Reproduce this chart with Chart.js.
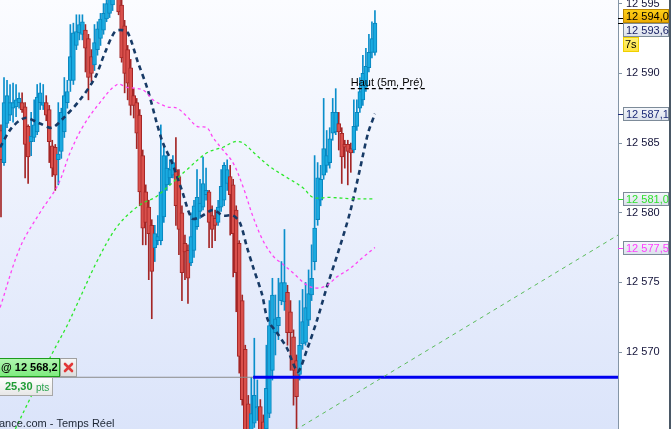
<!DOCTYPE html>
<html>
<head>
<meta charset="utf-8">
<script src="https://cdn.jsdelivr.net/npm/chart.js@4.4.0/dist/chart.umd.min.js"></script>
<style>
  html, body { margin: 0; padding: 0; background: #fff; overflow: hidden; }
  #wrap { width: 671px; height: 429px; }
</style>
</head>
<body>
<div id="wrap"><canvas id="chart" width="671" height="429"></canvas></div>
<script>
// 1-minute candles (oldest first)
const opens = [
  12585.9, 12583.6, 12586.4, 12587.0, 12587.5, 12587.6, 12587.9, 12587.9, 12587.6, 12586.2,
  12585.1, 12585.4, 12585.8, 12587.9, 12587.7, 12587.9, 12587.4, 12584.8, 12584.7, 12583.8,
  12584.4, 12585.8, 12587.9, 12589.5, 12589.5, 12592.0, 12592.9, 12592.8, 12593.1, 12592.5,
  12591.2, 12590.6, 12591.7, 12592.5, 12593.1, 12593.9, 12594.3, 12594.9, 12595.6, 12595.8,
  12594.9, 12593.4, 12591.7, 12590.4, 12588.4, 12587.9, 12587.0, 12584.1, 12581.5, 12580.4,
  12579.1, 12577.5, 12578.0, 12578.0, 12579.7, 12582.0, 12582.5, 12582.7, 12583.1, 12582.6,
  12580.0, 12577.8, 12577.3, 12576.4, 12577.3, 12579.0, 12580.1, 12580.4, 12581.3, 12581.5,
  12579.8, 12579.6, 12579.3, 12580.4, 12580.9, 12582.1, 12582.6, 12582.0, 12580.2, 12577.8,
  12573.7, 12570.2, 12566.3, 12563.4, 12564.9, 12566.0, 12566.1, 12565.0, 12564.5, 12565.6,
  12568.7, 12571.4, 12571.9, 12573.7, 12573.6, 12574.3, 12572.9, 12571.1, 12569.4, 12568.4,
  12570.6, 12570.7, 12572.3, 12574.1, 12576.5, 12579.5, 12580.9, 12582.7, 12583.4, 12583.6,
  12585.7, 12585.8, 12586.4, 12585.7, 12584.9, 12584.9, 12584.6, 12584.5, 12586.2, 12587.5,
  12588.1, 12589.0, 12590.4, 12591.5, 12591.5
];
const highs = [
  12586.3, 12589.7, 12589.5, 12589.2, 12589.3, 12589.2, 12588.6, 12588.6, 12587.9, 12586.3,
  12587.2, 12588.1, 12589.2, 12589.3, 12589.2, 12588.4, 12587.7, 12585.2, 12584.9, 12587.9,
  12587.5, 12589.7, 12589.5, 12593.5, 12593.6, 12594.2, 12594.2, 12594.2, 12593.5, 12592.8,
  12591.7, 12593.5, 12593.7, 12594.3, 12595.0, 12595.6, 12596.0, 12596.3, 12596.7, 12596.3,
  12595.3, 12593.8, 12592.0, 12591.0, 12588.9, 12588.2, 12587.4, 12584.5, 12582.0, 12580.9,
  12579.5, 12579.1, 12579.8, 12586.3, 12584.9, 12584.1, 12583.8, 12584.1, 12585.4, 12583.1,
  12580.5, 12578.4, 12577.7, 12580.0, 12580.9, 12583.1, 12582.4, 12584.0, 12583.2, 12581.6,
  12580.5, 12580.2, 12580.9, 12583.1, 12583.6, 12583.8, 12583.4, 12582.4, 12580.5, 12578.0,
  12574.1, 12570.5, 12566.9, 12568.2, 12571.0, 12568.0, 12566.6, 12565.5, 12570.5, 12573.7,
  12575.3, 12574.1, 12575.3, 12576.5, 12578.8, 12574.8, 12573.7, 12571.6, 12569.8, 12573.7,
  12574.5, 12575.0, 12575.9, 12577.7, 12584.1, 12583.6, 12583.4, 12588.2, 12585.9, 12586.1,
  12588.2, 12588.9, 12587.2, 12586.1, 12585.2, 12585.2, 12585.0, 12588.1, 12588.1, 12589.7,
  12591.3, 12591.8, 12592.8, 12593.7, 12594.5
];
const lows = [
  12579.7, 12583.4, 12586.1, 12586.6, 12586.5, 12586.9, 12587.5, 12587.2, 12582.5, 12582.1,
  12584.1, 12585.1, 12585.6, 12587.4, 12587.4, 12586.6, 12583.6, 12582.6, 12581.6, 12582.0,
  12583.9, 12585.4, 12587.5, 12588.7, 12589.2, 12591.7, 12592.4, 12592.4, 12590.1, 12588.1,
  12589.4, 12590.2, 12591.3, 12592.0, 12592.8, 12593.7, 12594.0, 12594.5, 12595.3, 12594.2,
  12590.8, 12588.6, 12588.1, 12587.0, 12586.8, 12584.6, 12580.5, 12577.7, 12577.7, 12575.2,
  12572.4, 12576.5, 12577.7, 12577.7, 12579.3, 12581.6, 12582.0, 12582.5, 12579.1, 12577.0,
  12573.7, 12575.2, 12573.5, 12576.2, 12576.8, 12578.8, 12579.6, 12580.2, 12580.9, 12577.5,
  12577.5, 12578.0, 12579.1, 12580.1, 12580.5, 12581.6, 12578.4, 12575.4, 12572.9, 12568.5,
  12566.2, 12563.4, 12563.0, 12563.0, 12564.6, 12565.1, 12563.4, 12563.4, 12564.1, 12565.3,
  12568.0, 12569.8, 12570.9, 12573.4, 12573.0, 12570.5, 12568.7, 12566.2, 12563.7, 12568.0,
  12570.2, 12570.5, 12571.9, 12573.7, 12575.9, 12579.1, 12580.5, 12582.4, 12582.9, 12583.2,
  12585.2, 12585.6, 12584.5, 12582.1, 12583.2, 12582.0, 12582.9, 12584.3, 12585.9, 12587.2,
  12587.7, 12588.7, 12590.1, 12591.1, 12591.3
];
const closes = [
  12583.8, 12587.9, 12588.4, 12587.9, 12587.9, 12588.1, 12588.2, 12587.4, 12584.9, 12584.0,
  12585.5, 12586.3, 12588.3, 12588.6, 12587.9, 12587.0, 12585.1, 12583.2, 12582.7, 12584.2,
  12587.2, 12588.4, 12588.7, 12591.2, 12592.9, 12593.0, 12593.5, 12593.7, 12591.8, 12589.7,
  12590.0, 12592.2, 12593.2, 12593.9, 12594.3, 12595.0, 12595.4, 12595.8, 12596.3, 12594.4,
  12591.1, 12590.0, 12589.3, 12587.7, 12587.7, 12585.7, 12581.5, 12578.9, 12579.3, 12578.5,
  12575.8, 12578.5, 12578.3, 12581.5, 12584.1, 12583.2, 12583.1, 12583.6, 12580.5, 12578.8,
  12575.7, 12577.2, 12575.3, 12578.3, 12580.5, 12581.1, 12580.7, 12582.1, 12581.6, 12579.3,
  12578.8, 12579.1, 12580.4, 12581.9, 12583.4, 12583.1, 12581.3, 12578.5, 12575.7, 12569.7,
  12566.6, 12563.7, 12563.4, 12565.6, 12566.9, 12566.1, 12563.7, 12563.7, 12567.4, 12571.9,
  12574.1, 12572.4, 12572.5, 12575.0, 12575.0, 12571.4, 12571.4, 12568.7, 12566.8, 12570.5,
  12572.2, 12573.2, 12574.2, 12575.3, 12578.9, 12582.5, 12582.4, 12584.6, 12584.1, 12585.3,
  12587.2, 12587.2, 12585.8, 12584.0, 12584.7, 12584.4, 12584.3, 12586.2, 12587.2, 12588.7,
  12590.0, 12590.5, 12591.5, 12592.5, 12593.6
];

// moving averages, read at candle positions
const maFastX = [-0.3, 3.6, 8.0, 12.9, 16.9, 21.2, 26.2, 31.2, 34.5, 37.8, 40.1, 42.1, 45.4, 48.7,
  51.7, 53.7, 56.7, 60.0, 63.3, 66.0, 70.3, 73.6, 76.9, 79.2, 81.6, 83.6, 86.5, 88.5, 91.5, 94.8,
  96.5, 98.5, 101.5, 104.8, 108.1, 111.7, 115.7, 119.0, 121.7, 124.0];
const maFastY = [12584.7, 12586.1, 12586.8, 12586.4, 12586.1, 12586.9, 12588.1, 12589.7, 12591.5,
  12593.0, 12593.1, 12592.9, 12590.8, 12588.8, 12586.4, 12585.0, 12583.6, 12581.6, 12579.6, 12579.7,
  12580.2, 12579.8, 12579.8, 12579.3, 12577.5, 12576.1, 12574.2, 12572.3, 12571.4, 12570.3, 12569.4,
  12568.6, 12570.2, 12572.3, 12574.7, 12577.1, 12580.0, 12583.1, 12585.7, 12587.1];

const maMidX = [-0.3, 6.3, 12.9, 18.9, 22.9, 27.2, 32.8, 38.5, 41.8, 47.1, 50.4, 55.0, 58.4, 61.7,
  65.0, 68.3, 70.3, 73.6, 76.9, 80.2, 83.6, 86.9, 90.2, 93.5, 96.8, 101.5, 104.8, 108.1, 111.4,
  115.7, 120.0, 124.0];
const maMidY = [12573.2, 12577.5, 12580.0, 12582.0, 12584.3, 12586.2, 12587.9, 12589.2, 12589.0,
  12588.8, 12588.1, 12587.6, 12587.5, 12586.9, 12586.2, 12586.1, 12585.4, 12584.5, 12583.6, 12581.9,
  12579.7, 12578.0, 12576.9, 12576.3, 12575.7, 12574.8, 12574.6, 12574.8, 12575.4, 12576.0, 12576.8,
  12577.5];

const maSlowX = [3.0, 10.6, 17.2, 21.9, 26.2, 31.8, 37.8, 42.8, 47.1, 51.1, 55.0, 61.7, 68.3, 73.6,
  77.6, 80.2, 84.9, 89.2, 93.5, 100.1, 103.5, 109.1, 116.7, 124.0];
const maSlowY = [12563.7, 12567.1, 12570.0, 12571.9, 12573.9, 12576.5, 12578.8, 12580.0, 12580.7,
  12581.1, 12581.8, 12583.1, 12584.3, 12584.7, 12585.1, 12585.0, 12584.1, 12583.3, 12582.7, 12581.8,
  12581.1, 12581.1, 12581.0, 12581.0];

// drawn objects
const trendX = [97.5, 204.6];
const trendY = [12564.4, 12578.4];
const orderLevel = 12568.2;
const orderFrom = 83.6;
const hautLevel = 12588.9;
const hautX = [116.0, 140.6];

const yTickValues = [12570, 12575, 12580, 12585, 12590, 12595];
const priceTags = [12594.0, 12593.6, 12587.1, 12581.0, 12577.5];

const xMin = -0.33, xMax = 204.6;
const yMin = 12564.49, yMax = 12595.26;

const UP_FILL = '#1aaae0', UP_LINE = '#0785bd';
const DN_FILL = '#d9504c', DN_LINE = '#a42626';

const spaced = v => String(v).replace(/\B(?=(\d{3})+(?!\d))/g, ' ');
const priceText = v => spaced(v.toFixed(1).split('.')[0]) + ',' + v.toFixed(1).split('.')[1];

const isUp = closes.map((c, i) => c >= opens[i]);
const pts = (xs, ys) => xs.map((x, i) => ({ x: x, y: ys[i] }));
const FONT = '"Liberation Sans", Arial, sans-serif';

const bgPlugin = {
  id: 'bg',
  beforeDraw(chart) {
    const { ctx, chartArea: a } = chart;
    ctx.save();
    ctx.fillStyle = '#ffffff';
    ctx.fillRect(0, 0, chart.width, chart.height);
    const g = ctx.createLinearGradient(0, a.top, 0, a.bottom);
    g.addColorStop(0, '#fbfcff');
    g.addColorStop(1, '#dbe4fa');
    ctx.fillStyle = g;
    ctx.fillRect(a.left, a.top, a.right - a.left, a.bottom - a.top);
    ctx.restore();
  }
};

function box(ctx, x, y, w, h, top, bot, border) {
  const g = ctx.createLinearGradient(0, y, 0, y + h);
  g.addColorStop(0, top);
  g.addColorStop(1, bot);
  ctx.fillStyle = g;
  ctx.fillRect(x, y, w, h);
  ctx.strokeStyle = border;
  ctx.lineWidth = 1;
  ctx.strokeRect(x + 0.5, y + 0.5, w - 1, h - 1);
}

const overlayPlugin = {
  id: 'overlay',
  afterDraw(chart) {
    const { ctx, chartArea: a } = chart;
    const ys = chart.scales.y, xs = chart.scales.x;
    ctx.save();

    // right edge
    ctx.fillStyle = '#4a5866';
    ctx.fillRect(669, 0, 2, chart.height);

    // price tags on the axis
    const tagX = a.right + 5, tagW = 46, tagH = 14;
    const styles = [
      { top: '#ffd21a', bot: '#eba900', border: '#b98500', color: '#000000', tick: '#000000' },
      { top: '#f6f8fc', bot: '#d9dfea', border: '#7d8b99', color: '#1c2466', tick: '#000000' },
      { top: '#f6f8fc', bot: '#d9dfea', border: '#7d8b99', color: '#1c2a78', tick: '#1c2a78' },
      { top: '#f6f8fc', bot: '#d9dfea', border: '#7d8b99', color: '#2ee02e', tick: '#2ee02e' },
      { top: '#f6f8fc', bot: '#d9dfea', border: '#7d8b99', color: '#ff3cff', tick: '#ff3cff' }
    ];
    let prevBottom = -Infinity;
    ctx.font = '11px ' + FONT;
    ctx.textBaseline = 'middle';
    ctx.textAlign = 'left';
    priceTags.forEach((v, i) => {
      const s = styles[i];
      const py = ys.getPixelForValue(v);
      ctx.strokeStyle = s.tick;
      ctx.lineWidth = 1;
      ctx.beginPath();
      ctx.moveTo(a.right, Math.round(py) + 0.5);
      ctx.lineTo(a.right + 5, Math.round(py) + 0.5);
      ctx.stroke();
      let top = Math.round(py - tagH / 2) - (i === 0 ? 2 : 0);
      if (top < prevBottom) top = prevBottom;
      box(ctx, tagX, top, tagW, tagH, s.top, s.bot, s.border);
      ctx.fillStyle = s.color;
      ctx.fillText(priceText(v), tagX + 3, top + tagH / 2 + 0.5);
      prevBottom = top + tagH;
      if (i === 1) {
        // countdown badge
        box(ctx, tagX, prevBottom, 16, 15, '#fff27a', '#ffe23a', '#f0d000');
        ctx.fillStyle = '#000000';
        ctx.fillText('7s', tagX + 2, prevBottom + 8);
        prevBottom += 15;
      }
    });

    // "Haut" label
    ctx.fillStyle = '#000000';
    ctx.font = '11px ' + FONT;
    ctx.textBaseline = 'alphabetic';
    ctx.fillText('Haut (5m, Pré)', xs.getPixelForValue(hautX[0]), ys.getPixelForValue(hautLevel) - 3);

    // order ticket, bottom left
    const oy = Math.round(ys.getPixelForValue(orderLevel));
    box(ctx, -4, oy - 19, 64, 19, '#b2f6b2', '#7ceb7c', '#1c9c1c');
    ctx.fillStyle = '#000000';
    ctx.font = 'bold 11px ' + FONT;
    ctx.textBaseline = 'middle';
    ctx.fillText('@ 12 568,2', 1, oy - 9);
    box(ctx, 60, oy - 19, 17, 19, '#f7f7f7', '#dcdcdc', '#a0a0a0');
    ctx.strokeStyle = '#e23838';
    ctx.lineWidth = 2.6;
    ctx.lineCap = 'round';
    ctx.beginPath();
    ctx.moveTo(65, oy - 13); ctx.lineTo(72, oy - 6);
    ctx.moveTo(72, oy - 13); ctx.lineTo(65, oy - 6);
    ctx.stroke();
    box(ctx, -4, oy, 57, 19, '#ffffff', '#e6e6e6', '#a8a8a8');
    ctx.fillStyle = '#1f9c35';
    ctx.font = 'bold 11px ' + FONT;
    ctx.fillText('25,30', 5, oy + 10);
    ctx.font = '10px ' + FONT;
    ctx.fillStyle = '#2aa34e';
    ctx.fillText('pts', 36, oy + 11);

    // source line
    ctx.fillStyle = '#1c2533';
    ctx.font = '11px ' + FONT;
    ctx.fillText('ance.com - Temps Réel', -1, 424);
    ctx.restore();
  }
};

const lineDs = (data, color, width, dash, tension) => ({
  type: 'line', data: data, borderColor: color, borderWidth: width, borderDash: dash,
  pointRadius: 0, fill: false, tension: tension, order: 0
});

new Chart(document.getElementById('chart'), {
  type: 'bar',
  data: {
    datasets: [
      lineDs(pts(maSlowX, maSlowY), '#2ce82c', 1.3, [3, 3], 0.35),
      lineDs(pts(maMidX, maMidY), '#ff44f4', 1.3, [3, 3], 0.35),
      lineDs(pts(maFastX, maFastY), '#173a66', 2.6, [5, 4], 0.3),
      lineDs(pts(trendX, trendY), '#5cbc5c', 1, [4, 4], 0),
      lineDs([{ x: xMin, y: orderLevel }, { x: orderFrom, y: orderLevel }], '#8a8a8a', 1, [], 0),
      lineDs([{ x: orderFrom, y: orderLevel }, { x: xMax, y: orderLevel }], '#0000f0', 3, [], 0),
      lineDs(pts(hautX, [hautLevel, hautLevel]), '#000000', 1.3, [4, 3], 0),
      {
        data: opens.map((o, i) => ({ x: i, y: [o, closes[i]] })),
        backgroundColor: isUp.map(u => u ? UP_FILL : DN_FILL),
        borderColor: isUp.map(u => u ? UP_LINE : DN_LINE),
        borderWidth: 1, borderSkipped: false, barThickness: 4, minBarLength: 1,
        grouped: false, order: 1
      },
      {
        data: lows.map((l, i) => ({ x: i, y: [l, highs[i]] })),
        backgroundColor: isUp.map(u => u ? '#0a8ecb' : DN_LINE),
        borderWidth: 0, barThickness: 1, grouped: false, order: 2
      }
    ]
  },
  options: {
    responsive: false,
    animation: false,
    devicePixelRatio: 1,
    layout: { padding: 0 },
    plugins: { legend: { display: false }, tooltip: { enabled: false } },
    scales: {
      x: { type: 'linear', min: xMin, max: xMax, display: false, offset: false },
      y: {
        type: 'linear', position: 'right', min: yMin, max: yMax,
        afterBuildTicks(scale) { scale.ticks = yTickValues.map(v => ({ value: v })); },
        afterFit(scale) { scale.width = 53; scale.paddingTop = 0; scale.paddingBottom = 0; },
        border: { display: true, color: '#8495a6', width: 1 },
        grid: { drawOnChartArea: false, drawTicks: true, tickLength: 4, tickColor: '#8495a6' },
        ticks: {
          padding: 4, color: '#14143a', font: { family: FONT, size: 11 },
          callback: v => spaced(v)
        }
      }
    }
  },
  plugins: [bgPlugin, overlayPlugin]
});
</script>
</body>
</html>
